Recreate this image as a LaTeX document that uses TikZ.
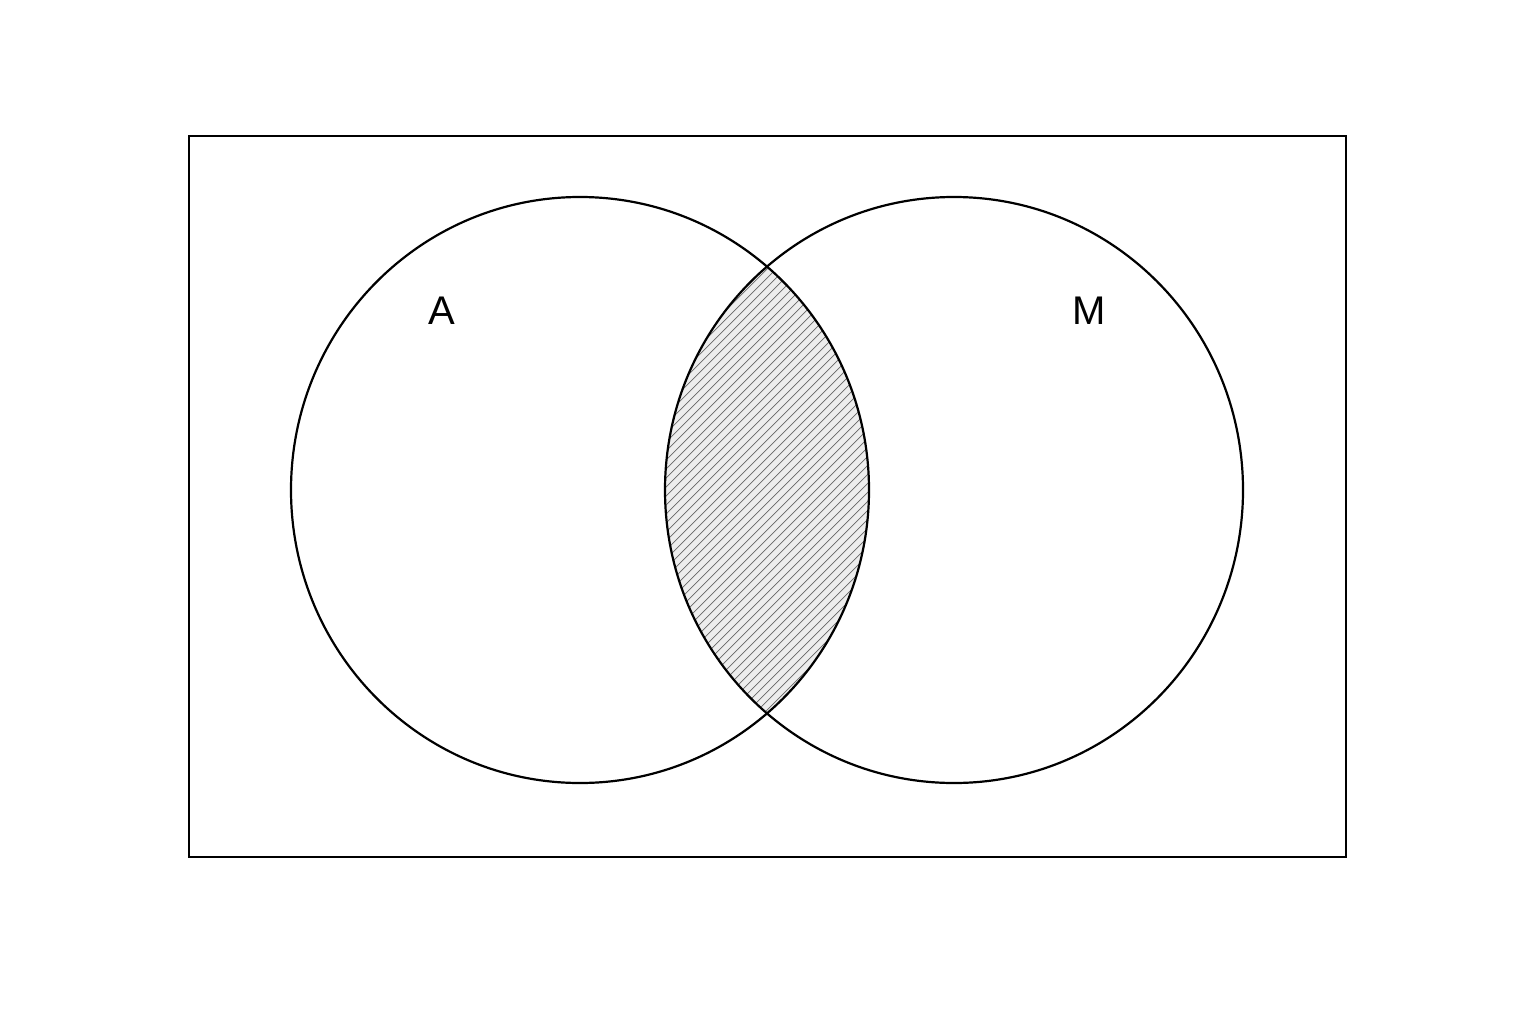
\documentclass[tikz,border=0pt]{standalone}
\usepackage{fontspec}
\setmainfont{Liberation Sans}
\begin{document}
\begin{tikzpicture}[x=1pt,y=-1pt,
  outline/.style={draw=black,line width=2.2pt},
  hatchline/.style={draw=black!60,line width=0.7pt},
  setlabel/.style={font=\fontsize{40}{48}\selectfont,inner sep=0pt}]
\useasboundingbox (0,0) rectangle (1536,1024);
\fill[white] (0,0) rectangle (1536,1024);
\coordinate (ca) at (580,490);
\coordinate (cm) at (954,490);
\begin{scope}
  \clip (ca) ellipse [x radius=289, y radius=293];
  \clip (cm) ellipse [x radius=289, y radius=293];
  \fill[black!7] (600,150) rectangle (950,850);
  \foreach \k in {-800,-791,...,400} {
    \draw[hatchline] (640+\k,800) -- (640+\k+600,200);
  }
\end{scope}
\draw[line width=2pt] (189,136) rectangle (1346,857);
\draw[outline] (ca) ellipse [x radius=289, y radius=293];
\draw[outline] (cm) ellipse [x radius=289, y radius=293];
\node[setlabel] (la) at (442,311) {A};
\node[setlabel] (lm) at (1089,311) {M};
\end{tikzpicture}
\end{document}
